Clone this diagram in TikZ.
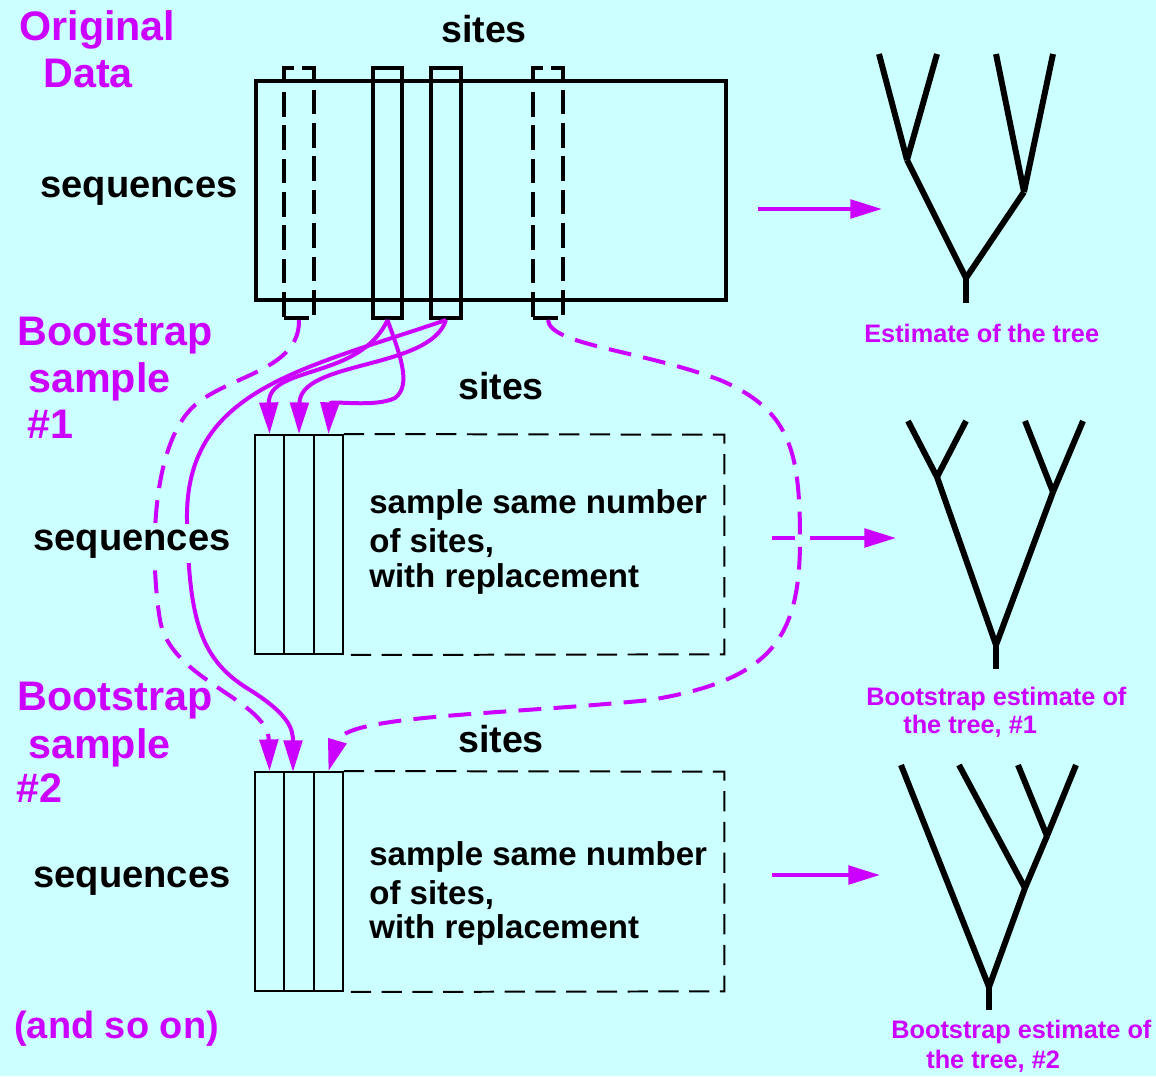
\documentclass[tikz,border=0pt]{standalone}
\usepackage{fontspec}
\setmainfont{Liberation Sans}
\usetikzlibrary{arrows.meta}
\definecolor{bg}{HTML}{CCFFFF}
\definecolor{mag}{HTML}{CC00FF}
\newcommand\setfs[1]{\fontsize{#1}{#1}\selectfont}

\tikzset{
  magtitle/.style={text=mag, font=\bfseries\setfs{23.5pt}, inner sep=0pt, anchor=base west},
  axislbl/.style={font=\bfseries\setfs{21.7pt}, inner sep=0pt, anchor=base west},
  sitelbl/.style={font=\bfseries\setfs{21.4pt}, inner sep=0pt, anchor=base},
  boxtxt/.style={font=\bfseries\setfs{18.8pt}, inner sep=0pt, anchor=base west},
  treelbl/.style={text=mag, font=\bfseries\setfs{14.4pt}, inner sep=0pt, anchor=base west},
  heavy/.style={line width=2.27pt},
  colbox/.style={draw, heavy, inner sep=0pt, minimum height=5cm},
  dashcol/.style={colbox, dash pattern=on 14pt off 5pt},
  thinline/.style={line width=1.13pt},
  cellbox/.style={draw, thinline, inner sep=0pt, minimum height=4.38cm},
  thindash/.style={thinline, dash pattern=on 11.5pt off 6pt},
  pick/.style={mag, line width=2.27pt, -{Triangle[length=18pt,width=10.5pt]}},
  dpick/.style={pick, dash pattern=on 13pt off 7pt},
  branch/.style={line width=3.4pt},
}

\begin{document}
\begin{tikzpicture}[x=0.02cm,y=-0.02cm]
\useasboundingbox (0,0) rectangle (1156,1076);
\fill[bg] (0,0) rectangle (1156,1076);

% ---------- original data matrix ----------
\node[draw, heavy, inner sep=0pt, minimum width=9.4cm, minimum height=4.38cm] (data) at (491,190.5) {};
\node[dashcol, minimum width=0.6cm]  (col1) at (299,193) {};
\node[colbox,  minimum width=0.58cm] (col2) at (387.5,193) {};
\node[colbox,  minimum width=0.6cm]  (col3) at (446,193) {};
\node[dashcol, minimum width=0.6cm]  (col4) at (548,193) {};

% ---------- bootstrap sample 1 ----------
\node[inner sep=0pt, minimum width=9.38cm, minimum height=4.38cm] (box1) at (489.5,544.5) {};
\node[cellbox, minimum width=0.58cm] (cell11) at (269.5,544.5) {};
\node[cellbox, minimum width=0.6cm]  (cell12) at (299,544.5) {};
\node[cellbox, minimum width=0.58cm] (cell13) at (328.5,544.5) {};
\draw[thindash] (cell13.north east) -- (box1.north east) -- (box1.south east) -- (cell13.south east);

% ---------- bootstrap sample 2 ----------
\node[inner sep=0pt, minimum width=9.38cm, minimum height=4.38cm] (box2) at (489.5,881.5) {};
\node[cellbox, minimum width=0.58cm] (cell21) at (269.5,881.5) {};
\node[cellbox, minimum width=0.6cm]  (cell22) at (299,881.5) {};
\node[cellbox, minimum width=0.58cm] (cell23) at (328.5,881.5) {};
\draw[thindash] (cell23.north east) -- (box2.north east) -- (box2.south east) -- (cell23.south east);
\coordinate (in22) at (293,772);

% ---------- resampling connectors ----------
\draw[pick] (col2.south) .. controls (360,380) and (268,365) .. (cell11.north);
\draw[pick] (col2.south) .. controls (400,355) and (412,385) .. (395,398)
            .. controls (375,408) and (330,400) .. (cell13.north);
\draw[pick] (col3.south) .. controls (430,370) and (300,360) .. (cell12.north);
\draw[pick] (col3.south) .. controls (300,370) and (185,390) .. (187,520)
            .. controls (189,620) and (200,660) .. (250,690)
            .. controls (290,715) and (293,730) .. (in22);
\draw[dpick] (col1.south) .. controls (300,370) and (230,375) .. (195,405)
            .. controls (150,445) and (150,560) .. (160,620)
            .. controls (170,680) and (268,700) .. (cell21.north);
\draw[dpick] (col4.south) .. controls (550,345) and (640,350) .. (720,380)
            .. controls (790,410) and (800,450) .. (800,540)
            .. controls (800,640) and (770,680) .. (650,700)
            .. controls (500,715) and (345,715) .. (cell23.north);

% ---------- arrows to the trees ----------
\coordinate (e0s) at (758,209); \coordinate (e0e) at (882,209);
\coordinate (e1s) at (772,538); \coordinate (e1e) at (896,538);
\coordinate (e2s) at (772,875); \coordinate (e2e) at (880,875);
\draw[pick] (e0s) -- (e0e);
\draw[pick, dash pattern=on 13pt off 8.5pt on 120pt] (e1s) -- (e1e);
\draw[pick] (e2s) -- (e2e);

% ---------- tree estimated from the data ----------
\coordinate (t0l1) at (879,54);  \coordinate (t0l2) at (937,54);
\coordinate (t0l3) at (996,54);  \coordinate (t0l4) at (1053,54);
\coordinate (t0a) at (907,160);  \coordinate (t0b) at (1024,192);
\coordinate (t0r) at (966,278);  \coordinate (t0base) at (966,303);
\draw[branch] (t0l1) -- (t0a); \draw[branch] (t0l2) -- (t0a);
\draw[branch] (t0l3) -- (t0b); \draw[branch] (t0l4) -- (t0b);
\draw[branch] (t0a) -- (t0r);  \draw[branch] (t0b) -- (t0r);
\draw[branch] (t0r) -- (t0base);

% ---------- tree from sample 1 ----------
\coordinate (t1l1) at (908,421);  \coordinate (t1l2) at (966,421);
\coordinate (t1l3) at (1025,421); \coordinate (t1l4) at (1083,421);
\coordinate (t1a) at (937,477);   \coordinate (t1b) at (1053,492);
\coordinate (t1r) at (996,645);   \coordinate (t1base) at (996,669);
\draw[branch] (t1l1) -- (t1a); \draw[branch] (t1l2) -- (t1a);
\draw[branch] (t1l3) -- (t1b); \draw[branch] (t1l4) -- (t1b);
\draw[branch] (t1a) -- (t1r);  \draw[branch] (t1b) -- (t1r);
\draw[branch] (t1r) -- (t1base);

% ---------- tree from sample 2 ----------
\coordinate (t2l1) at (901,765);  \coordinate (t2l2) at (959,765);
\coordinate (t2l3) at (1018,765); \coordinate (t2l4) at (1076,765);
\coordinate (t2c) at (1047,836);  \coordinate (t2d) at (1025,888);
\coordinate (t2r) at (989,987);   \coordinate (t2base) at (989,1010);
\draw[branch] (t2l3) -- (t2c); \draw[branch] (t2l4) -- (t2c);
\draw[branch] (t2l2) -- (t2d); \draw[branch] (t2c) -- (t2d);
\draw[branch] (t2l1) -- (t2r); \draw[branch] (t2d) -- (t2r);
\draw[branch] (t2r) -- (t2base);

% ---------- labels ----------
\node[magtitle] (orig1) at (19,40) {Original};
\node[magtitle] (orig2) at (43,87) {Data};
\node[sitelbl] (sites0) at (484,42) {sites};
\node[axislbl] (seq0) at (40,197) {sequences};
\node[treelbl] (est0) at (864,342) {Estimate of the tree};

\node[magtitle] (bs1a) at (17,345) {Bootstrap};
\node[magtitle] (bs1b) at (28,392) {sample};
\node[magtitle] (bs1c) at (27,438) {\#1};
\node[sitelbl] (sites1) at (501,399) {sites};
\node[axislbl, fill=bg, inner ysep=3pt, inner xsep=0pt] (seq1) at (33,550) {sequences};
\node[boxtxt] (txt1a) at (369,513) {sample same number};
\node[boxtxt] (txt1b) at (369,552) {of sites,};
\node[boxtxt] (txt1c) at (369,587) {with replacement};
\node[treelbl] (est1a) at (866,705) {Bootstrap estimate of};
\node[treelbl] (est1b) at (903,733) {the tree, \#1};

\node[magtitle] (bs2a) at (17,710) {Bootstrap};
\node[magtitle] (bs2b) at (28,758) {sample};
\node[magtitle] (bs2c) at (16,802) {\#2};
\node[sitelbl] (sites2) at (501,752) {sites};
\node[axislbl] (seq2) at (33,887) {sequences};
\node[boxtxt] (txt2a) at (369,865) {sample same number};
\node[boxtxt] (txt2b) at (369,904) {of sites,};
\node[boxtxt] (txt2c) at (369,938) {with replacement};
\node[treelbl] (est2a) at (891,1038) {Bootstrap estimate of};
\node[treelbl] (est2b) at (926,1068) {the tree, \#2};

\node[magtitle, font=\bfseries\setfs{21.6pt}] (more) at (14,1038) {(and so on)};
\end{tikzpicture}
\end{document}
